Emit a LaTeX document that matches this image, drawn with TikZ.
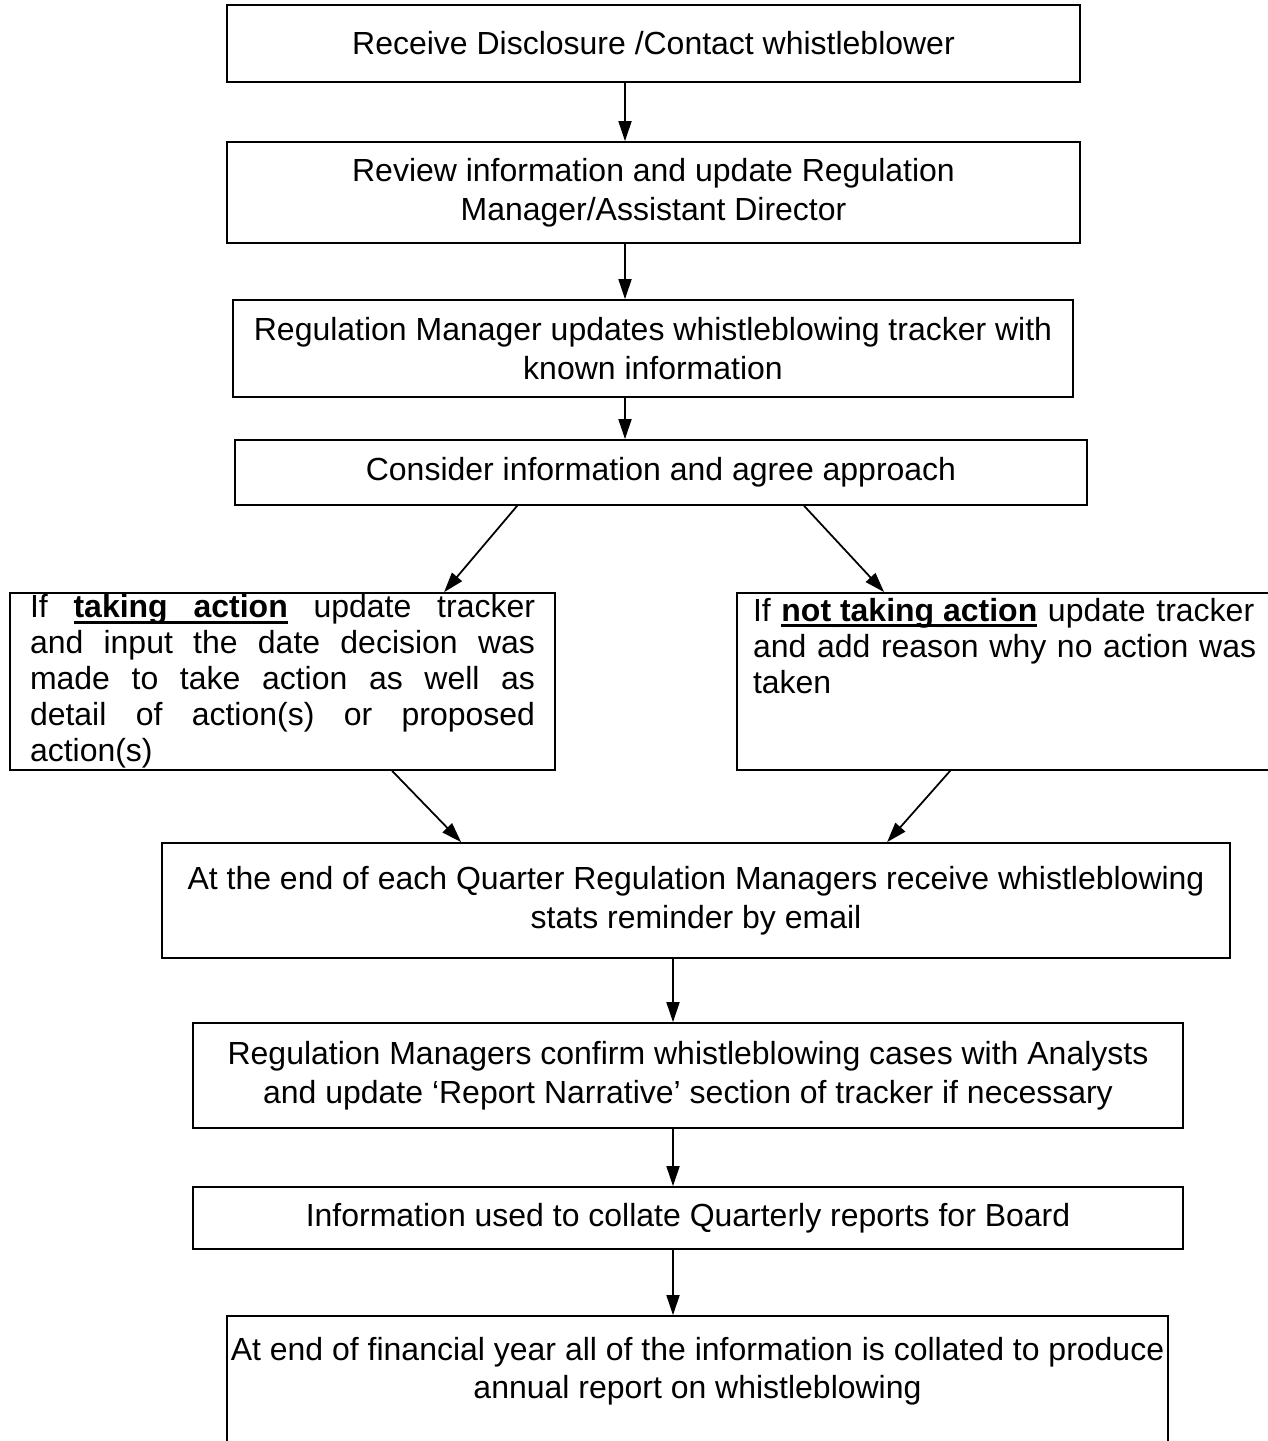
\documentclass[tikz,border=0pt]{standalone}
\usepackage{fontspec}
\setmainfont{Liberation Sans}
\usetikzlibrary{arrows.meta, positioning}
\tikzset{
>={Triangle[length=4mm, width=2.6mm]}, % filled arrow heads
every node/.style={font=\fontsize{18.2}{22}\selectfont}, % Arial sized text everywhere
stepbox/.style={draw, line width=1pt, align=center, inner sep=0pt}, % the process boxes
sidebox/.style={stepbox, font=\fontsize{18.2}{20.5}\selectfont, minimum height=3.54cm}, % the two decision boxes
flow/.style={->, line width=1pt}, % connectors between boxes
}
% bold underlined words, with an underlined space that may stretch
\newcommand{\ulword}[1]{\setbox0\hbox{\bfseries #1}\rlap{\smash{\raisebox{-3.4pt}{\rule{\wd0}{1.6pt}}}}\box0\relax}
\newcommand{\ulspace}{\leaders\hbox{\smash{\raisebox{-3.4pt}{\rule{0.2pt}{1.6pt}}}}\hskip\fontdimen2\font plus\fontdimen3\font minus\fontdimen4\font\relax}

\begin{document}
\begin{tikzpicture}
        \path[fill=white] (0,0) rectangle (25.34,-28.82);
        \useasboundingbox (0,0) rectangle (25.34,-28.82);

        \node[stepbox, minimum width=17.06cm, minimum height=1.54cm] (receive) at (13.07,-0.87) {Receive Disclosure /Contact whistleblower};
        \node[stepbox, minimum width=17.06cm, minimum height=2.02cm] (review) at (13.07,-3.85) {Review information and update Regulation\\Manager/Assistant Director};
        \node[stepbox, minimum width=16.80cm, minimum height=1.94cm] (tracker) at (13.06,-6.97) {Regulation Manager updates whistleblowing tracker with\\known information};
        \node[stepbox, minimum width=17.04cm, minimum height=1.30cm] (consider) at (13.22,-9.45) {Consider information and agree approach};

        \node[sidebox, align=justify, text width=10.1cm, inner xsep=0.4cm] (take) at (5.65,-13.63) {If \ulword{taking}\ulspace\ulword{action} update tracker\linebreak and input the date decision was\linebreak made to take action as well as\linebreak detail of action(s) or proposed\linebreak action(s)};
        \node[sidebox, align=left, text width=10.4cm, inner xsep=0.32cm] (noaction) at (20.26,-13.63) {If \ulword{not}\ulspace\ulword{taking}\ulspace\ulword{action} update tracker\\and add reason why no action was\\taken\\\mbox{}\\\mbox{}};

        \node[stepbox, minimum width=21.36cm, minimum height=2.30cm] (quarter) at (13.92,-18.01) {At the end of each Quarter Regulation Managers receive whistleblowing\\stats reminder by email};
        \node[stepbox, minimum width=19.80cm, minimum height=2.10cm] (confirm) at (13.76,-21.51) {Regulation Managers confirm whistleblowing cases with Analysts\\and update `Report Narrative' section of tracker if necessary};
        \node[stepbox, minimum width=19.80cm, minimum height=1.24cm] (board) at (13.76,-24.36) {Information used to collate Quarterly reports for Board};
        \node[stepbox, minimum width=18.82cm, minimum height=2.70cm] (annual) at (13.95,-27.67) {};
        \node[align=center] (annualtext) at ([yshift=-1.12cm]annual.north) {At end of financial year all of the information is collated to produce\\annual report on whistleblowing};

        \coordinate (upperaxis) at (12.50,0);
        \coordinate (loweraxis) at (13.46,0);

        \draw[flow] (receive.south -| upperaxis) -- (review.north -| upperaxis);
        \draw[flow] (review.south -| upperaxis) -- (tracker.north -| upperaxis);
        \draw[flow] (tracker.south -| upperaxis) -- (consider.north -| upperaxis);
        \draw[flow] ([xshift=5.66cm]consider.south west) -- ([xshift=8.70cm]take.north west);
        \draw[flow] ([xshift=11.40cm]consider.south west) -- ([xshift=2.96cm]noaction.north west);
        \draw[flow] ([xshift=7.66cm]take.south west) -- ([xshift=6.00cm]quarter.north west);
        \draw[flow] ([xshift=4.28cm]noaction.south west) -- ([xshift=14.52cm]quarter.north west);
        \draw[flow] (quarter.south -| loweraxis) -- (confirm.north -| loweraxis);
        \draw[flow] (confirm.south -| loweraxis) -- (board.north -| loweraxis);
        \draw[flow] (board.south -| loweraxis) -- (annual.north -| loweraxis);
    \end{tikzpicture}
\end{document}
